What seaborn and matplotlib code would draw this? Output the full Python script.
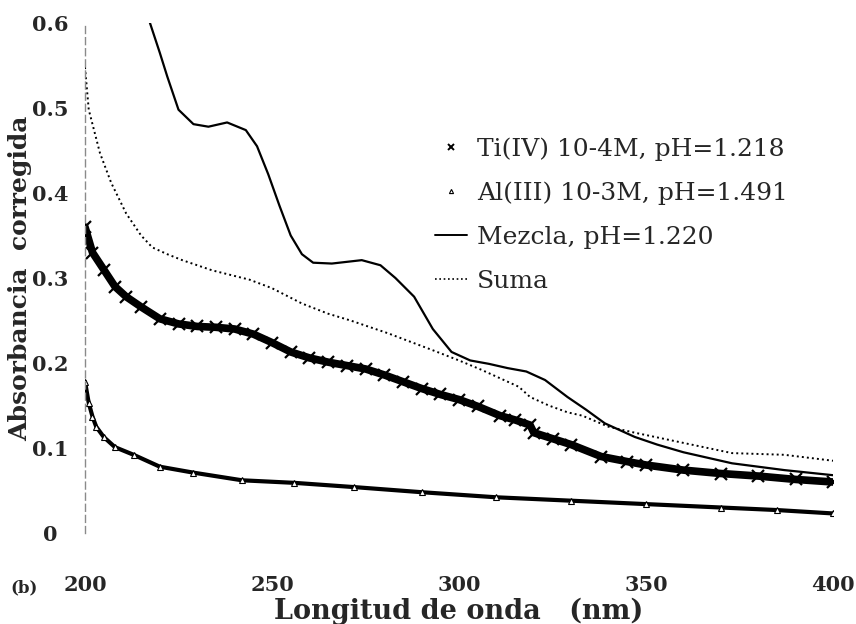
import numpy as np
import pandas as pd
import seaborn as sns
import matplotlib.pyplot as plt
from matplotlib.lines import Line2D

# Wavelength (nm) and corrected absorbance for each spectrum
wl_ti = [200, 202, 205, 208, 211, 215, 220, 225, 230, 235, 240, 245, 250, 255, 260,
         265, 270, 275, 280, 285, 290, 295, 300, 305, 311, 315, 319, 320, 325, 330,
         338, 345, 350, 360, 370, 380, 390, 400]
abs_ti = [0.360, 0.330, 0.310, 0.290, 0.278, 0.266, 0.252, 0.246, 0.243, 0.242, 0.240,
          0.234, 0.224, 0.213, 0.206, 0.201, 0.197, 0.193, 0.186, 0.178, 0.170, 0.163,
          0.157, 0.149, 0.138, 0.133, 0.127, 0.118, 0.111, 0.104, 0.090, 0.084, 0.080,
          0.074, 0.070, 0.067, 0.063, 0.060]

wl_al = [200, 201, 202, 203, 205, 208, 213, 220, 229, 242, 256, 272, 290, 310, 330,
         350, 370, 385, 400]
abs_al = [0.178, 0.153, 0.137, 0.125, 0.113, 0.101, 0.092, 0.078, 0.071, 0.062, 0.059,
          0.054, 0.048, 0.042, 0.038, 0.034, 0.030, 0.027, 0.023]

wl_mez = [217, 220, 222, 225, 229, 233, 238, 243, 246, 249, 252, 255, 258, 261, 266,
          270, 274, 279, 283, 288, 293, 298, 303, 308, 313, 318, 323, 329, 334, 339,
          347, 353, 360, 373, 387, 400]
abs_mez = [0.605, 0.565, 0.537, 0.498, 0.481, 0.478, 0.483, 0.474, 0.455, 0.422, 0.385,
           0.350, 0.328, 0.318, 0.317, 0.319, 0.321, 0.315, 0.300, 0.278, 0.240, 0.213,
           0.203, 0.199, 0.194, 0.190, 0.180, 0.160, 0.145, 0.129, 0.113, 0.104, 0.095,
           0.082, 0.074, 0.068]

wl_sum = [200, 201, 204, 207, 211, 215, 218, 222, 226, 234, 244, 250, 258, 265, 271,
          281, 293, 300, 306, 312, 316, 319, 324, 329, 333, 340, 347, 360, 373, 387, 400]
abs_sum = [0.548, 0.498, 0.447, 0.412, 0.376, 0.350, 0.336, 0.328, 0.321, 0.309, 0.298,
           0.288, 0.270, 0.258, 0.250, 0.235, 0.215, 0.203, 0.192, 0.180, 0.172, 0.160,
           0.150, 0.142, 0.138, 0.125, 0.118, 0.106, 0.094, 0.092, 0.085]

labels = ["Ti(IV) 10-4M, pH=1.218", "Al(III) 10-3M, pH=1.491",
          "Mezcla, pH=1.220", "Suma"]
x_ticks = [200, 250, 300, 350, 400]
y_ticks = [0, 0.1, 0.2, 0.3, 0.4, 0.5, 0.6]
y_tick_labels = ["0", "0.1", "0.2", "0.3", "0.4", "0.5", "0.6"]

sns.set_theme(style="white")
plt.rcParams['font.family'] = ['DejaVu Serif']

fig = plt.figure(figsize=(8.56, 6.24), dpi=100)
W, H = 856, 624
ax = fig.add_axes([85 / W, 1 - 533 / H, (833 - 85) / W, (533 - 23) / H])

ti = pd.DataFrame({"wl": wl_ti, "a": abs_ti})
al = pd.DataFrame({"wl": wl_al, "a": abs_al})
mez = pd.DataFrame({"wl": wl_mez, "a": abs_mez})
sm = pd.DataFrame({"wl": wl_sum, "a": abs_sum})

# Ti(IV): dense band of x markers
sns.lineplot(data=ti, x="wl", y="a", ax=ax, color="black", lw=5.5,
             marker="x", markersize=8, markeredgewidth=1.6,
             markeredgecolor="black", sort=False)
# Al(III): thin band of small triangles
sns.lineplot(data=al, x="wl", y="a", ax=ax, color="black", lw=3.0,
             marker="^", markersize=4.5, markerfacecolor="white",
             markeredgecolor="black", markeredgewidth=0.8, sort=False)
# mixture: solid line
sns.lineplot(data=mez, x="wl", y="a", ax=ax, color="black", lw=1.6, sort=False)
# sum of the single spectra: dotted line
sns.lineplot(data=sm, x="wl", y="a", ax=ax, color="black", lw=1.4,
             linestyle=(0, (1, 1.6)), sort=False)

ax.set_xlim(200, 400)
ax.set_ylim(0, 0.6)

for s in ["top", "right", "bottom"]:
    ax.spines[s].set_visible(False)
ax.spines["left"].set_color("#8a8a8a")
ax.spines["left"].set_linewidth(1.0)
ax.spines["left"].set_linestyle((0, (5, 3)))

ax.set_xticks(x_ticks)
ax.set_xticklabels([str(t) for t in x_ticks], fontweight="bold", fontsize=15)
ax.set_yticks(y_ticks)
ax.set_yticklabels(y_tick_labels, fontweight="bold", fontsize=15, ha="center")
ax.tick_params(axis="x", length=3, width=1, color="#8a8a8a", direction="out", pad=27)
ax.tick_params(axis="y", length=0, pad=25)

ax.set_xlabel("Longitud de onda   (nm)", fontsize=19.5, fontweight="bold", labelpad=2)
ax.set_ylabel("Absorbancia  corregida", fontsize=18, fontweight="bold")
ax.yaxis.set_label_coords((32 - 85) / 748, 0.5)

handles = [
    Line2D([], [], color="black", marker="x", linestyle="none", markersize=5,
           markeredgewidth=1.4),
    Line2D([], [], color="black", marker="^", linestyle="none", markersize=3,
           markerfacecolor="white", markeredgewidth=0.8),
    Line2D([], [], color="black", lw=1.4),
    Line2D([], [], color="black", lw=1.2, linestyle=(0, (1, 1.6))),
]
ax.legend(handles, labels, loc="upper left", bbox_to_anchor=(0.454, 0.796),
          frameon=False, fontsize=18, handlelength=1.3, handletextpad=0.4,
          labelspacing=0.84, borderaxespad=0)

fig.text(24 / W, 1 - 588 / H, "(b)", fontsize=12, fontweight="bold",
         ha="center", va="center")

fig.savefig("out.png", dpi=100)
